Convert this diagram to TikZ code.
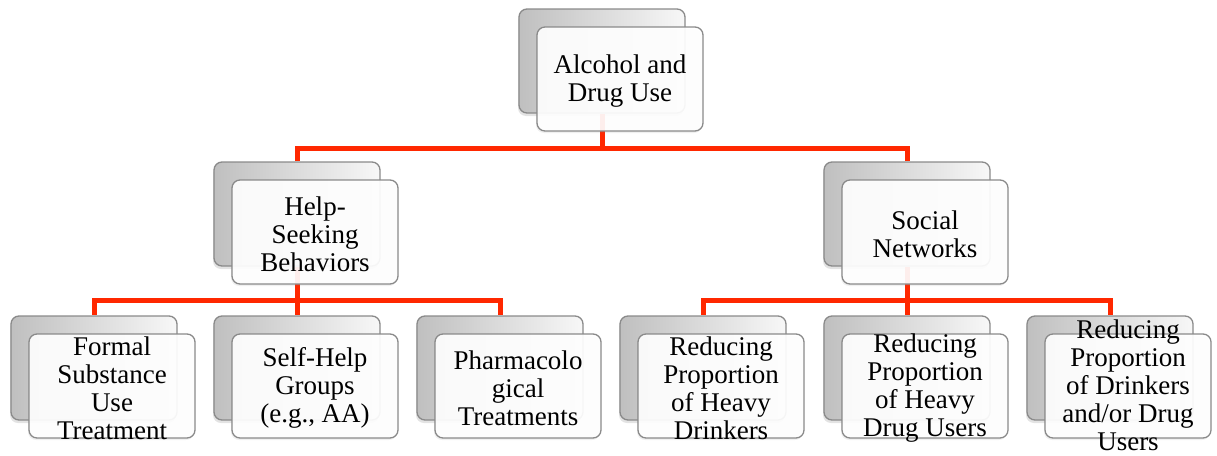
\documentclass[tikz,border=0pt]{standalone}
\usepackage{fontspec}
\setmainfont{Liberation Serif}
\usetikzlibrary{shadows}
\definecolor{conred}{RGB}{255,40,0}
\definecolor{edgegray}{RGB}{138,138,138}
\begin{document}
\begin{tikzpicture}[x=1pt,y=-1pt,
  backbox/.style={rectangle, rounded corners=8pt, minimum width=166pt, minimum height=104pt,
    inner sep=0pt, draw=edgegray, line width=1.3pt, left color=black!25, right color=black!3,
    drop shadow={shadow xshift=-1pt, shadow yshift=-3pt, opacity=0.22}},
  frontbox/.style={rectangle, rounded corners=8pt, minimum width=166pt, minimum height=104pt,
    inner sep=0pt, draw=edgegray, line width=1.3pt, fill=white, fill opacity=0.92,
    drop shadow={shadow xshift=-1pt, shadow yshift=-2pt, opacity=0.12}},
  lbl/.style={align=center, font=\fontsize{27}{28}\selectfont, inner sep=0pt, text=black},
  conn/.style={draw=conred, line width=5pt}]
\useasboundingbox (0,0) rectangle (1217,455);
% junctions
\coordinate (j0) at (602,148);
\coordinate (j1) at (297,300);
\coordinate (j2) at (907,300);
% back boxes
\node[backbox] (b0) at (602,61) {};
\node[backbox] (b1) at (297,214) {};
\node[backbox] (b2) at (907,214) {};
\node[backbox] (b3) at (94,368) {};
\node[backbox] (b4) at (297,368) {};
\node[backbox] (b5) at (500,368) {};
\node[backbox] (b6) at (703,368) {};
\node[backbox] (b7) at (907,368) {};
\node[backbox] (b8) at (1110,368) {};
% connectors
\draw[conn] (b0.south) -- (j0);
\draw[conn] (j0) -| (b1.north);
\draw[conn] (j0) -| (b2.north);
\draw[conn] (b1.south) -- (j1);
\draw[conn] (j1) -| (b3.north);
\draw[conn] (j1) -| (b4.north);
\draw[conn] (j1) -| (b5.north);
\draw[conn] (b2.south) -- (j2);
\draw[conn] (j2) -| (b6.north);
\draw[conn] (j2) -| (b7.north);
\draw[conn] (j2) -| (b8.north);
% front boxes
\node[frontbox] (f0) at (620,79) {};
\node[frontbox] (f1) at (315,232) {};
\node[frontbox] (f2) at (925,232) {};
\node[frontbox] (f3) at (112,386) {};
\node[frontbox] (f4) at (315,386) {};
\node[frontbox] (f5) at (518,386) {};
\node[frontbox] (f6) at (721,386) {};
\node[frontbox] (f7) at (925,386) {};
\node[frontbox] (f8) at (1128,386) {};
% labels
\node[lbl] (t0) at ([yshift=-2pt]f0.center) {Alcohol and\\Drug Use};
\node[lbl] (t1) at ([yshift=-2pt]f1.center) {Help-\\Seeking\\Behaviors};
\node[lbl] (t2) at ([yshift=-2pt]f2.center) {Social\\Networks};
\node[lbl] (t3) at ([yshift=-2pt]f3.center) {Formal\\Substance\\Use\\Treatment};
\node[lbl] (t4) at ([yshift=-2pt]f4.center) {Self-Help\\Groups\\(e.g., AA)};
\node[lbl] (t5) at ([yshift=-2pt]f5.center) {Pharmacolo\\gical\\Treatments};
\node[lbl] (t6) at ([yshift=-2pt]f6.center) {Reducing\\Proportion\\of Heavy\\Drinkers};
\node[lbl] (t7) at ([yshift=-2pt]f7.center) {Reducing\\Proportion\\of Heavy\\Drug Users};
\node[lbl] (t8) at ([yshift=1pt]f8.center) {Reducing\\Proportion\\of Drinkers\\and/or Drug\\Users};
\end{tikzpicture}
\end{document}
